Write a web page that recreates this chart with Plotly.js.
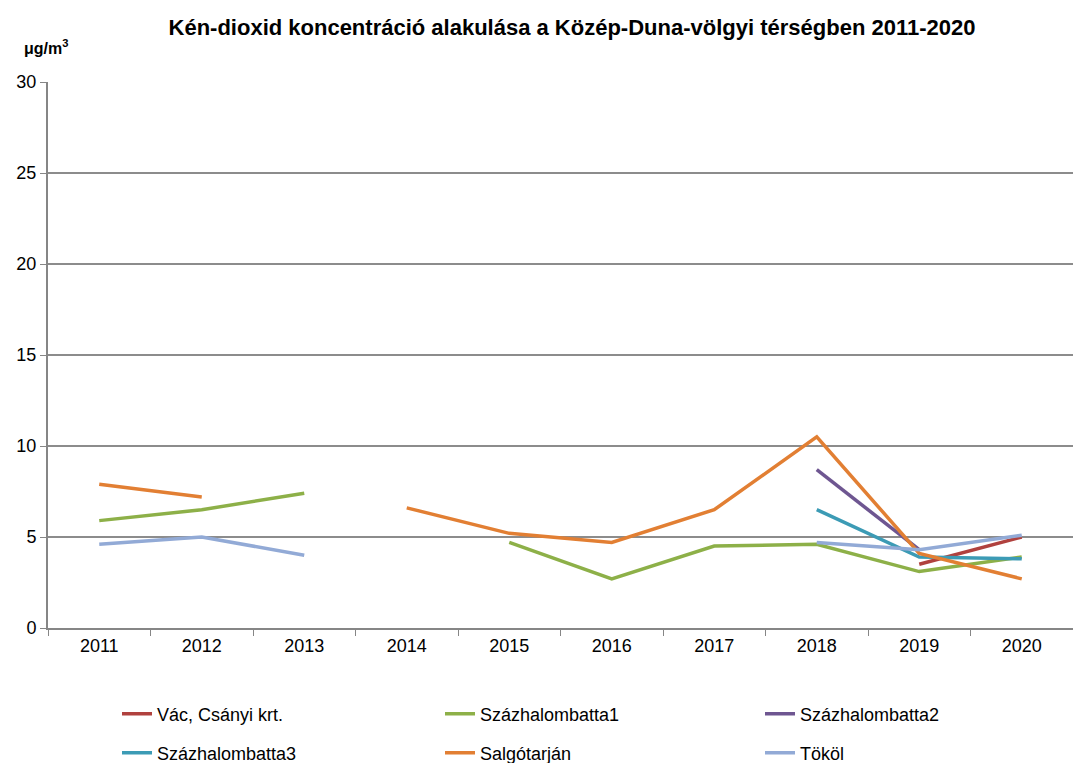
<!DOCTYPE html>
<html>
<head>
<meta charset="utf-8">
<script src="https://cdn.plot.ly/plotly-3.0.1.min.js"></script>
<style>html,body{margin:0;padding:0;background:#fff;}#chart{width:1073px;height:763px;}</style>
</head>
<body>
<div id="chart"></div>
<script>
const years = ['2011','2012','2013','2014','2015','2016','2017','2018','2019','2020'];
const vac = [null,null,null,null,null,null,null,null,3.5,5.0];
const szazhalombatta1 = [5.9,6.5,7.4,null,4.7,2.7,4.5,4.6,3.1,3.9];
const szazhalombatta2 = [null,null,null,null,null,null,null,8.7,4.3,null];
const szazhalombatta3 = [null,null,null,null,null,null,null,6.5,3.9,3.8];
const salgotarjan = [7.9,7.2,null,6.6,5.2,4.7,6.5,10.5,4.1,2.7];
const tokol = [4.6,5.0,4.0,null,null,null,null,4.7,4.3,5.1];

const names = ['Vác, Csányi krt.','Százhalombatta1','Százhalombatta2','Százhalombatta3','Salgótarján','Tököl'];
const series = [vac, szazhalombatta1, szazhalombatta2, szazhalombatta3, salgotarjan, tokol];
const colors = ['#B0413E','#8DB048','#6E5691','#3C9BB5','#E27F33','#92AAD6'];
const legendIds = ['legend','legend2','legend3','legend4','legend5','legend6'];

const traces = series.map((s,i)=>({
  x: years, y: s, name: names[i], type:'scatter', mode:'lines',
  connectgaps:false,
  line:{color:colors[i], width:3.5},
  legend: legendIds[i]
}));

const FONT = 'Liberation Sans, Arial, sans-serif';
const legX = [117, 440, 760];
const legY = [714, 753];
function mkLegend(i){
  const col = i % 3, row = Math.floor(i/3);
  return {xref:'container', yref:'container', x: legX[col]/1073, y: 1 - legY[row]/763,
    xanchor:'left', yanchor:'middle', orientation:'h', borderwidth:0, bgcolor:'rgba(0,0,0,0)',
    font:{family:FONT, size:18, color:'#000'}};
}

const layout = {
  width:1073, height:763,
  margin:{l:48, r:0, t:82, b:135},
  paper_bgcolor:'#fff', plot_bgcolor:'#fff',
  font:{family:FONT, size:18, color:'#000'},
  title:{text:'<b>Kén-dioxid koncentráció alakulása a Közép-Duna-völgyi térségben 2011-2020</b>',
    font:{size:22, family:FONT, color:'#000'},
    x:572/1073, xanchor:'center', y:1-27/763, yanchor:'middle', xref:'container', yref:'container'},
  xaxis:{type:'category', range:[-0.5,9.5], tickson:'boundaries', ticks:'outside', ticklen:6,
    tickcolor:'#868686', showline:true, linecolor:'#868686', linewidth:2, showgrid:false,
    tickfont:{size:18}, fixedrange:true, automargin:false},
  yaxis:{range:[0,30], dtick:5, ticks:'outside', ticklen:6, tickcolor:'#868686',
    showline:true, linecolor:'#868686', linewidth:2, showgrid:true, gridcolor:'#8C8C8C', gridwidth:1.2,
    zeroline:false, tickfont:{size:18}, fixedrange:true, automargin:false},
  showlegend:true,
  annotations:[{text:'<b>μg/m<sup>3</sup></b>', xref:'paper', yref:'paper', x:(22-48)/1027, y:(628-47)/546,
    xanchor:'left', yanchor:'middle', showarrow:false, font:{size:16, family:FONT}}]
};
legendIds.forEach((id,i)=>{ layout[id] = mkLegend(i); });

Plotly.newPlot('chart', traces, layout, {displayModeBar:false, staticPlot:true});
</script>
</body>
</html>
